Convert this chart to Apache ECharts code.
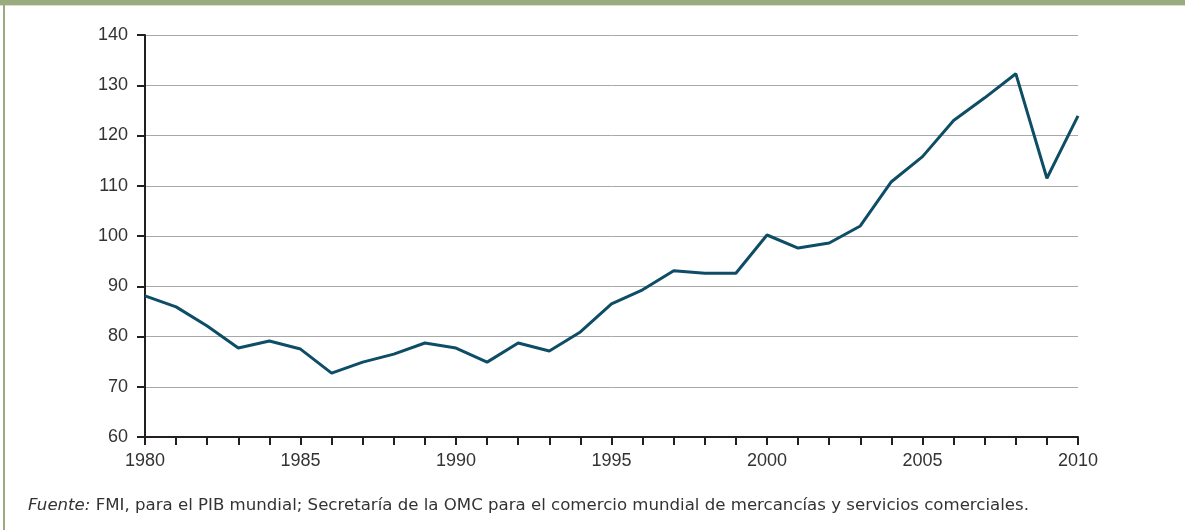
<!DOCTYPE html>
<html>
<head>
<meta charset="utf-8">
<script src="https://cdn.jsdelivr.net/npm/echarts@6/dist/echarts.min.js"></script>
<style>
html,body{margin:0;padding:0;background:#fff;}
#chart{width:1185px;height:530px;}
</style>
</head>
<body>
<div id="chart"></div>
<script>
const years = [1980,1981,1982,1983,1984,1985,1986,1987,1988,1989,1990,1991,1992,1993,1994,1995,1996,1997,1998,1999,2000,2001,2002,2003,2004,2005,2006,2007,2008,2009,2010];
const values = [88.1,85.9,82.1,77.7,79.1,77.5,72.7,74.9,76.5,78.7,77.7,74.9,78.7,77.1,80.9,86.5,89.3,93.1,92.6,92.6,100.2,97.6,98.6,102.0,110.8,115.8,123.0,127.5,132.3,111.5,123.9];
const yTicks = [60,70,80,90,100,110,120,130,140];
const xLabelYears = [1980,1985,1990,1995,2000,2005,2010];
const sourceLabel = 'Fuente:';
const sourceText = ' FMI, para el PIB mundial; Secretaría de la OMC para el comercio mundial de mercancías y servicios comerciales.';

const chart = echarts.init(document.getElementById('chart'), null, {renderer:'canvas'});
const font = 'Liberation Sans, Arial, sans-serif';
const font2 = 'DejaVu Sans, sans-serif';
chart.setOption({
  animation:false,
  backgroundColor:'#fff',
  grid:{left:145, right:107, top:35, bottom:93, containLabel:false},
  xAxis:{
    type:'value', min:years[0], max:years[years.length-1], interval:1,
    axisLine:{show:true, lineStyle:{color:'#231f20', width:2}},
    axisTick:{show:true, length:8, lineStyle:{color:'#231f20', width:2}},
    axisLabel:{color:'#333', fontSize:18, fontFamily:font, margin:15,
      formatter:v => xLabelYears.includes(v) ? String(v) : ''},
    splitLine:{show:false}
  },
  yAxis:{
    type:'value', min:yTicks[0], max:yTicks[yTicks.length-1], interval:10,
    axisLine:{show:true, lineStyle:{color:'#231f20', width:2}},
    axisTick:{show:true, length:8, lineStyle:{color:'#231f20', width:2}},
    axisLabel:{color:'#333', fontSize:18, fontFamily:font, margin:17},
    splitLine:{show:true, lineStyle:{color:'#a8a8a8', width:1}}
  },
  series:[{
    type:'line', data: years.map((y,i)=>[y, values[i]]),
    showSymbol:false, lineStyle:{color:'#0e4d66', width:3}
  }],
  graphic:[
    {type:'rect', shape:{x:0,y:0,width:1185,height:5}, style:{fill:'#9aab80'}},
    {type:'rect', shape:{x:0,y:5,width:1185,height:1}, style:{fill:'#d8dfcc'}},
    {type:'rect', shape:{x:3,y:0,width:2,height:530}, style:{fill:'#9aab80'}},
    {type:'text', left:28, top:497, style:{
      text:'{i|'+sourceLabel+'}{n|'+sourceText+'}',
      rich:{
        i:{fontStyle:'italic', fontSize:16.6, fontFamily:font2, fill:'#333'},
        n:{fontSize:16.6, fontFamily:font2, fill:'#333'}
      }
    }}
  ]
});
</script>
</body>
</html>
